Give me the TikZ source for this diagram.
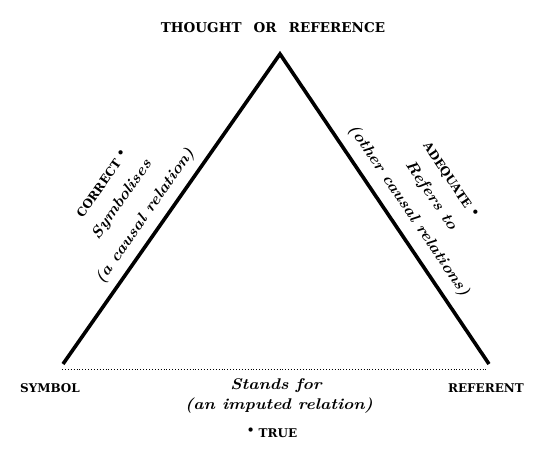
\documentclass[tikz,border=0pt]{standalone}
\usepackage{fontspec}
\newfontfamily\relfont{lmroman10-bolditalic.otf}[FakeStretch=1.12]
\newfontfamily\capsfont{DejaVu Serif}
\tikzset{
  corner/.style={font=\fontsize{12}{14}\selectfont\capsfont\bfseries, inner sep=0pt, anchor=base},
  rel/.style={font=\fontsize{15.5}{18}\selectfont\relfont, inner sep=0pt, anchor=base},
}
\newcommand{\dotmark}{\raisebox{0.4ex}{\textbullet}}

\begin{document}
\begin{tikzpicture}[x=1pt, y=-1pt]
  \useasboundingbox (0,0) rectangle (557,458);

  \coordinate (sym) at (63,364);
  \coordinate (thought) at (280,54);
  \coordinate (ref) at (489,364);
  \coordinate (basel) at (62,369);
  \coordinate (baser) at (487,369);

  \draw[line width=3.6pt] (sym) -- (thought) -- (ref);
  \draw[dotted, line width=0.9pt] (basel) -- (baser);

  \node[corner, font=\fontsize{13.5}{16}\selectfont\capsfont\bfseries] (thoughtlbl) at (273,32) {THOUGHT\hspace{0.9em}OR\hspace{0.9em}REFERENCE};
  \node[corner] (symlbl) at (50,392) {SYMBOL};
  \node[corner] (reflbl) at (486,392) {REFERENT};

  \path (sym) -- (thought)
    node[rel, sloped, pos=0.445, yshift=13.5pt] (symrel) {(a causal relation)}
    node[rel, sloped, pos=0.445, yshift=42pt] (symverb) {Symbolises}
    node[corner, sloped, pos=0.45, yshift=67pt] (correct) {CORRECT\ \dotmark};

  \path (thought) -- (ref)
    node[rel, sloped, pos=0.54, yshift=15pt] (refrel) {(other causal relations)}
    node[rel, sloped, pos=0.54, yshift=42pt] (refverb) {Refers to}
    node[corner, sloped, pos=0.535, yshift=67pt] (adequate) {ADEQUATE\ \dotmark};

  \node[rel] (stands) at (276,389) {Stands for};
  \node[rel] (imputed) at (279,409) {(an imputed relation)};
  \node[corner] (true) at (272,437) {\dotmark\ TRUE};
\end{tikzpicture}
\end{document}
